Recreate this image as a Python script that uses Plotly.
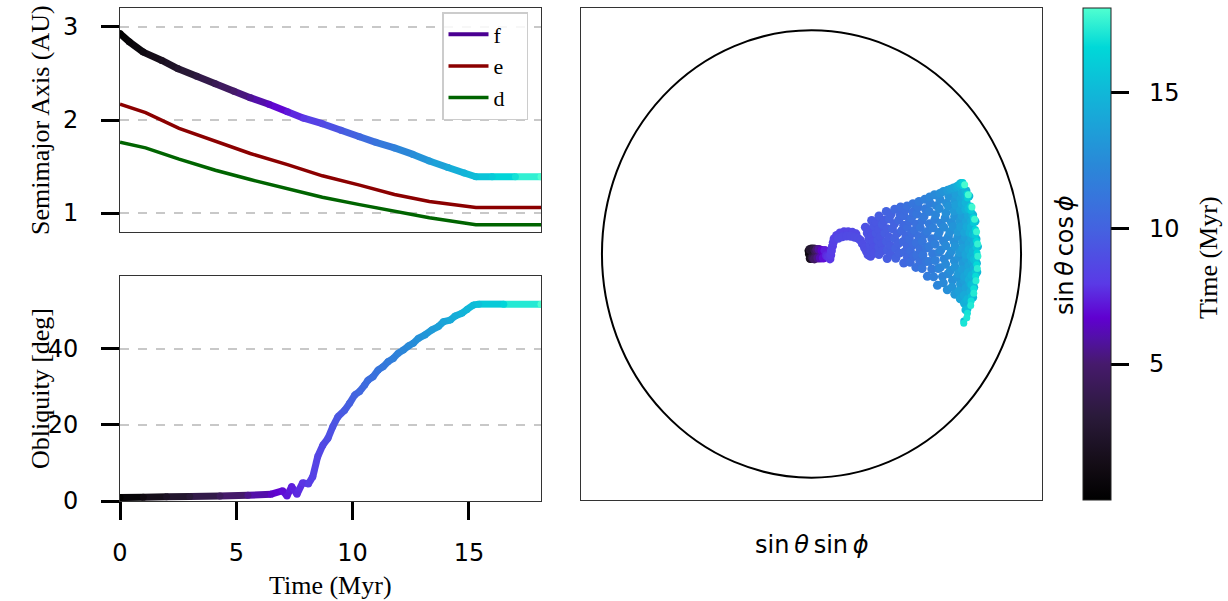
import plotly.graph_objects as go
from plotly.colors import sample_colorscale

# ---------------- data ----------------
T_MAX = 18.1

# semimajor axis (AU) vs time (Myr)
t_f = [0, 0.4, 1.0, 1.8, 2.5, 3.3, 4.1, 4.9, 5.6, 6.4, 7.2, 7.9, 8.7, 9.5, 10.3,
       11.0, 11.8, 12.6, 13.3, 14.1, 14.8, 15.3, 16.0, 17.0, 18.1]
a_f = [2.93, 2.84, 2.73, 2.64, 2.55, 2.47, 2.39, 2.31, 2.24, 2.17, 2.09, 2.02, 1.96, 1.89, 1.82,
       1.76, 1.70, 1.63, 1.56, 1.49, 1.43, 1.39, 1.39, 1.39, 1.39]
t_ed = [0, 1.1, 2.54, 4.1, 5.6, 7.2, 8.7, 10.3, 11.8, 13.3, 15.3, 18.1]
a_e = [2.17, 2.08, 1.91, 1.77, 1.64, 1.52, 1.40, 1.30, 1.20, 1.125, 1.06, 1.06]
a_d = [1.76, 1.70, 1.58, 1.46, 1.36, 1.26, 1.17, 1.09, 1.02, 0.95, 0.875, 0.875]

# obliquity (deg) vs time (Myr)
t_obl = [0, 1, 2, 3, 4.3, 5.5, 6.5, 6.99, 7.18, 7.38, 7.61, 7.85, 8.1, 8.29, 8.5, 8.72, 8.94,
         9.15, 9.37, 9.66, 9.87, 10.09, 10.3, 10.52, 10.66, 10.88, 11.1, 11.31, 11.53, 11.75,
         11.96, 12.18, 12.4, 12.61, 12.83, 13.11, 13.4, 13.69, 13.91, 14.2, 14.41, 14.7, 14.92,
         15.2, 15.42, 16.5, 18.1]
obl = [0.9, 1.0, 1.1, 1.2, 1.3, 1.5, 1.8, 2.7, 1.3, 3.8, 1.8, 4.8, 4.5, 6.4, 11.7, 14.7, 16.5,
       19.6, 22.2, 23.9, 25.7, 27.9, 28.8, 30.5, 31.8, 32.7, 34.5, 35.3, 36.7, 37.5,
       38.9, 39.7, 40.8, 41.5, 42.8, 43.7, 45.0, 45.9, 47.2, 47.6, 48.7, 49.4, 50.4,
       51.6, 51.8, 51.8, 51.8]

# spin-vector projection: early phase (t < 9 Myr)
early_t = [0.2, 0.6, 1.0, 1.4, 1.8, 2.2, 2.6, 3.0, 3.4, 3.8, 4.2, 4.6, 5.0, 5.4, 5.8, 6.2, 6.6, 7.0, 7.3, 7.6,
           7.8, 7.9, 8.0, 8.1, 8.2, 8.3,
           8.35, 8.4, 8.45, 8.5, 8.55, 8.6, 8.65,
           8.7, 8.74, 8.78, 8.82, 8.86, 8.9,
           8.91, 8.93, 8.95, 8.97, 8.99]
early_x = [-0.012, -0.004, -0.01, 0.0, -0.006, 0.006, -0.008, 0.004, 0.012, 0.008, 0.02, 0.014, 0.026, 0.03, 0.036, 0.042, 0.05, 0.056, 0.064, 0.072,
           0.08, 0.088, 0.092, 0.095, 0.1, 0.104,
           0.108, 0.12, 0.136, 0.155, 0.175, 0.195, 0.212,
           0.128, 0.147, 0.167, 0.187, 0.206, 0.222,
           0.233, 0.243, 0.253, 0.262, 0.27]
early_y = [0.014, -0.018, 0.0, 0.022, -0.02, 0.008, 0.02, -0.014, 0.022, -0.02, 0.012, -0.022, 0.02, -0.018, 0.02, -0.018, 0.016, -0.018, 0.016, -0.008,
           -0.012, -0.022, -0.005, 0.015, 0.035, 0.052,
           0.068, 0.083, 0.094, 0.099, 0.1, 0.097, 0.09,
           0.07, 0.077, 0.08, 0.079, 0.075, 0.07,
           0.062, 0.045, 0.028, 0.012, -0.004]

# libration cycles (9 - 15 Myr): one time per cycle
cycle_t = [9.1, 9.4, 9.7, 10.0, 10.3, 10.6, 10.9, 11.2, 11.5, 11.8, 12.1, 12.4, 12.7, 13.0,
           13.3, 13.6, 13.9, 14.2, 14.5, 14.8, 15.1]
cycle_x = [
    [.282, .282, .279, .274, .266, .257, .279, .287, .293, .297, .298],
    [.322, .321, .316, .308, .297, .287, .308, .320, .329, .335, .338],
    [.361, .362, .358, .350, .338, .322, .348, .361, .371, .376, .378],
    [.402, .401, .396, .386, .371, .357, .380, .396, .408, .415, .418],
    [.440, .442, .438, .430, .416, .397, .424, .440, .451, .457, .458],
    [.471, .472, .467, .457, .441, .425, .448, .467, .479, .486, .488],
    [.498, .502, .500, .491, .477, .456, .484, .501, .512, .518, .517],
    [.528, .532, .529, .519, .502, .484, .508, .528, .541, .547, .547],
    [.553, .561, .561, .553, .537, .513, .543, .562, .574, .578, .574],
    [.583, .591, .590, .580, .562, .541, .566, .589, .603, .608, .605],
    [.601, .614, .617, .609, .592, .564, .596, .618, .630, .633, .625],
    [.629, .640, .641, .631, .610, .587, .613, .638, .653, .658, .652],
    [.648, .663, .667, .660, .642, .612, .645, .668, .681, .682, .673],
    [.671, .685, .686, .676, .654, .630, .656, .683, .699, .703, .696],
    [.684, .702, .707, .700, .681, .650, .684, .708, .721, .722, .711],
    [.703, .719, .722, .712, .689, .664, .690, .718, .734, .738, .729],
    [.710, .730, .737, .731, .711, .678, .713, .739, .752, .751, .738],
    [.729, .748, .752, .742, .719, .692, .719, .749, .765, .767, .756],
    [.730, .753, .762, .756, .736, .701, .737, .764, .777, .776, .760],
    [.745, .766, .772, .763, .738, .710, .737, .769, .785, .787, .774],
    [.737, .765, .777, .772, .751, .713, .751, .780, .792, .789, .769],
]
cycle_y = [
    [-.010, .016, .042, .068, .094, .120, .107, .081, .055, .029, .003],
    [-.002, .030, .062, .094, .126, .150, .142, .110, .078, .046, .014],
    [-.020, .018, .056, .094, .132, .170, .151, .113, .075, .037, -.001],
    [-.019, .025, .069, .113, .157, .190, .179, .135, .091, .047, .003],
    [-.040, .008, .056, .104, .152, .200, .176, .128, .080, .032, -.016],
    [-.037, .015, .067, .119, .171, .210, .197, .145, .093, .041, -.011],
    [-.060, -.005, .050, .105, .160, .215, .188, .133, .078, .023, -.033],
    [-.065, -.004, .057, .118, .179, .225, .210, .149, .088, .027, -.034],
    [-.100, -.033, .034, .101, .168, .235, .202, .135, .068, .001, -.067],
    [-.102, -.029, .044, .117, .190, .245, .227, .154, .081, .008, -.065],
    [-.140, -.061, .018, .097, .176, .255, .216, .137, .058, -.022, -.101],
    [-.129, -.046, .037, .120, .203, .265, .244, .161, .078, -.005, -.088],
    [-.160, -.074, .012, .098, .184, .270, .227, .141, .055, -.031, -.117],
    [-.148, -.058, .033, .123, .213, .280, .258, .168, .078, -.013, -.103],
    [-.180, -.087, .006, .099, .192, .285, .239, .146, .053, -.041, -.134],
    [-.166, -.070, .026, .122, .218, .290, .266, .170, .074, -.022, -.118],
    [-.200, -.101, -.002, .097, .196, .295, .246, .147, .048, -.052, -.151],
    [-.185, -.083, .020, .122, .224, .300, .275, .173, .071, -.032, -.134],
    [-.220, -.115, -.010, .095, .200, .305, .253, .148, .043, -.063, -.168],
    [-.203, -.095, .013, .121, .229, .310, .283, .175, .067, -.041, -.149],
    [-.250, -.137, -.024, .089, .202, .315, .259, .146, .033, -.081, -.194],
]

# final libration arc (t > 15.2 Myr)
arc_t = [15.3, 15.38, 15.45, 15.53, 15.6, 15.68, 15.75, 15.83, 15.9, 15.98, 16.05, 16.13,
         16.2, 16.28, 16.35, 16.43, 16.5, 16.58, 16.65, 16.73, 16.8, 16.88, 16.95, 17.03, 17.1,
         17.15, 17.23, 17.3, 17.38, 17.45, 17.53, 17.6, 17.68, 17.75, 17.83, 17.9, 17.98]
arc_x = [.7265, .7469, .7627, .7743, .7819, .7856, .7854, .7814, .7734, .7614, .7452, .7244,
         .7223, .7432, .7602, .7732, .7823, .7879, .7900, .7885, .7836, .7746, .7616, .7442, .7266,
         .7411, .7599, .7744, .7849, .7913, .7939, .7927, .7877, .7787, .7657, .7484, .7310]
arc_y = [-.300, -.245, -.190, -.135, -.080, -.025, .030, .085, .140, .195, .250, .305,
         .320, .268, .215, .162, .110, .057, .005, -.048, -.100, -.155, -.210, -.265, -.310,
         -.285, -.230, -.175, -.120, -.065, -.010, .045, .100, .155, .210, .265, .310]

cb_ticks = [5, 10, 15]
legend_names = ["f", "e", "d"]

# ---------------- styling ----------------
cmap = [[0.0, "#000000"], [0.07, "#130c15"], [0.17, "#2a1a3a"], [0.276, "#461a6c"],
        [0.33, "#5210a8"], [0.37, "#6000d0"], [0.44, "#5a3ae6"], [0.55, "#4462e0"],
        [0.68, "#2a88d8"], [0.83, "#10b8d8"], [0.92, "#00d8d8"], [1.0, "#50ffd0"]]

SERIF = "Liberation Serif"
SANS = "DejaVu Sans"
W, H = 1228, 601
PAD = "\u00a0\u00a0\u00a0"

fig = go.Figure()


def colored_line(t, v, xa, ya, width):
    for i in range(len(t) - 1):
        tm = 0.5 * (t[i] + t[i + 1])
        c = sample_colorscale(cmap, [tm / T_MAX])[0]
        fig.add_trace(go.Scatter(x=[t[i], t[i + 1]], y=[v[i], v[i + 1]], mode="lines",
                                 line=dict(color=c, width=width), xaxis=xa, yaxis=ya,
                                 showlegend=False, hoverinfo="skip"))
    fig.add_trace(go.Scatter(x=t, y=v, mode="markers", xaxis=xa, yaxis=ya, showlegend=False,
                             marker=dict(color=t, colorscale=cmap, cmin=0, cmax=T_MAX,
                                         size=width, line=dict(width=0)),
                             hoverinfo="skip"))


# legend entries
fig.add_trace(go.Scatter(x=[None], y=[None], mode="lines", name=legend_names[0] + PAD,
                         line=dict(color="#4b0092", width=4), xaxis="x", yaxis="y"))
fig.add_trace(go.Scatter(x=t_ed, y=a_e, mode="lines", name=legend_names[1] + PAD,
                         line=dict(color="#8b0000", width=3.5), xaxis="x", yaxis="y"))
fig.add_trace(go.Scatter(x=t_ed, y=a_d, mode="lines", name=legend_names[2] + PAD,
                         line=dict(color="#006400", width=3.5), xaxis="x", yaxis="y"))
colored_line(t_f, a_f, "x", "y", 7)
colored_line(t_obl, obl, "x2", "y2", 7)

# spin projection scatter
cx, cy, ct = [], [], []
for tc, xs, ys in zip(cycle_t, cycle_x, cycle_y):
    cx += xs
    cy += ys
    ct += [tc] * len(xs)

mk = dict(colorscale=cmap, cmin=0, cmax=T_MAX, line=dict(width=0))
fig.add_trace(go.Scatter(x=early_x, y=early_y, mode="markers", xaxis="x3", yaxis="y3",
                         showlegend=False, hoverinfo="skip",
                         marker=dict(color=early_t, size=9, **mk)))
fig.add_trace(go.Scatter(x=cx, y=cy, mode="markers", xaxis="x3", yaxis="y3",
                         showlegend=False, hoverinfo="skip",
                         marker=dict(color=ct, size=9, **mk)))
fig.add_trace(go.Scatter(
    x=arc_x, y=arc_y, mode="markers", xaxis="x3", yaxis="y3", showlegend=False,
    hoverinfo="skip",
    marker=dict(color=arc_t, size=7, **mk,
                colorbar=dict(x=1083 / W, xanchor="left", xpad=0, ypad=0,
                              thickness=28, thicknessmode="pixels",
                              len=492 / H, lenmode="fraction", y=1 - 500 / H, yanchor="bottom",
                              outlinewidth=1, outlinecolor="#222",
                              tickvals=cb_ticks,
                              ticktext=["\u00a0\u00a0" + str(v) for v in cb_ticks],
                              ticks="outside", ticklen=18, tickwidth=3, tickcolor="black",
                              tickfont=dict(family=SANS, size=24, color="black")))))

axis_line = dict(showline=True, mirror=True, linecolor="#333", linewidth=1, zeroline=False)
grid = dict(showgrid=True, gridcolor="#c8c8c8", griddash="dash", gridwidth=1.5)
tick_font = dict(family=SANS, size=24, color="black")

fig.update_layout(
    width=W, height=H, margin=dict(l=0, r=0, t=0, b=0, autoexpand=False),
    plot_bgcolor="white", paper_bgcolor="white",
    xaxis=dict(domain=[120 / W, 541 / W], range=[0, T_MAX], anchor="y",
               showticklabels=False, ticks="", showgrid=False, **axis_line),
    yaxis=dict(domain=[1 - 232 / H, 1 - 8 / H], range=[0.796, 3.204], anchor="x",
               tickvals=[1, 2, 3], ticks="outside", ticklen=18, tickwidth=3, tickcolor="black",
               tickfont=tick_font, ticklabelstandoff=18, **grid, **axis_line),
    xaxis2=dict(domain=[120 / W, 541 / W], range=[0, T_MAX], anchor="y2",
                tickvals=[0, 5, 10, 15], ticks="outside", ticklen=18, tickwidth=3,
                tickcolor="black", tickfont=tick_font, ticklabelstandoff=12,
                showgrid=False, **axis_line),
    yaxis2=dict(domain=[1 - 501 / H, 1 - 276 / H], range=[0, 59.2], anchor="x2",
                tickvals=[0, 20, 40], ticks="outside", ticklen=18, tickwidth=3,
                tickcolor="black", tickfont=tick_font, ticklabelstandoff=18,
                **grid, **axis_line),
    xaxis3=dict(domain=[581 / W, 1042 / W], range=[-1.1, 1.1], anchor="y3",
                showticklabels=False, ticks="", showgrid=False, **axis_line),
    yaxis3=dict(domain=[1 - 500 / H, 1 - 8 / H], range=[-1.1, 1.1], anchor="x3",
                showticklabels=False, ticks="", showgrid=False, **axis_line),
    legend=dict(x=528 / W, xanchor="right", y=1 - 12 / H, yanchor="top",
                bgcolor="rgba(255,255,255,0.85)", bordercolor="#cccccc", borderwidth=1.5,
                font=dict(family=SERIF, size=22, color="black"), traceorder="normal",
                itemwidth=40, tracegroupgap=0),
    shapes=[dict(type="circle", xref="x3", yref="y3", x0=-1, x1=1, y0=-1, y1=1,
                 line=dict(color="black", width=2), layer="below")],
    showlegend=True,
)

ann_serif = dict(family=SERIF, size=26, color="black")
ann_sans = dict(family=SANS, size=24, color="black")
annotations = [
    dict(text="Semimajor Axis (AU)", x=40 / W, y=1 - 120 / H, textangle=-90, font=ann_serif),
    dict(text="Obliquity [deg]", x=40 / W, y=1 - 389 / H, textangle=-90, font=ann_serif),
    dict(text="Time (Myr)", x=330 / W, y=1 - 585 / H, textangle=0, font=ann_serif),
    dict(text="sin\u2009<i>θ</i>\u2009sin\u2009<i>ϕ</i>", x=812 / W, y=1 - 545 / H, textangle=0,
         font=ann_sans),
    dict(text="sin\u2009<i>θ</i>\u2009cos\u2009<i>ϕ</i>", x=1065 / W, y=1 - 255 / H, textangle=-90,
         font=ann_sans),
    dict(text="Time (Myr)", x=1208 / W, y=1 - 258 / H, textangle=-90, font=ann_serif),
]
for a in annotations:
    a.update(xref="paper", yref="paper", showarrow=False, xanchor="center", yanchor="middle")
fig.update_layout(annotations=annotations)

fig.write_html("out.html")
